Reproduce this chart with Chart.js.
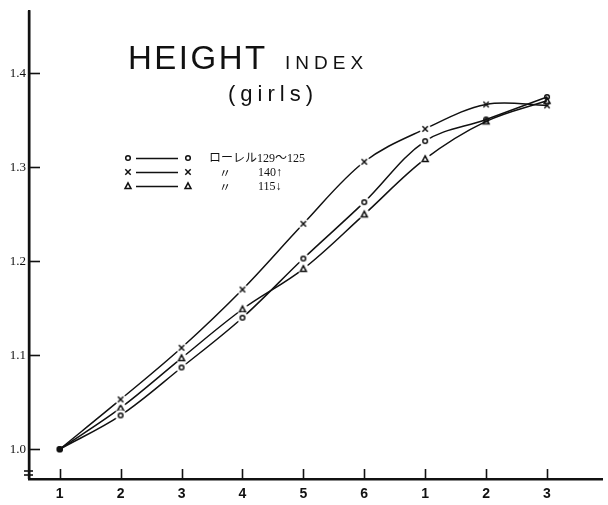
<!DOCTYPE html>
<html>
<head>
<meta charset="utf-8">
<script src="https://cdn.jsdelivr.net/npm/chart.js@4.4.1/dist/chart.umd.min.js"></script>
<style>
  html, body { margin: 0; padding: 0; background: #fff; }
  #wrap { position: relative; width: 608px; height: 505px; }
</style>
</head>
<body>
<div id="wrap"><canvas id="chart" width="608" height="505"></canvas></div>
<script>
// categories (age steps) and their printed labels
const xVals = [1, 2, 3, 4, 5, 6, 7, 8, 9];
const xLabels = ['1', '2', '3', '4', '5', '6', '1', '2', '3'];
const yTicks = [1.0, 1.1, 1.2, 1.3, 1.4];

// series
const seriesNames = ['ローレル129〜125', '140↑', '115↓'];
const rohrerMid = [1.0, 1.036, 1.087, 1.140, 1.203, 1.263, 1.328, 1.351, 1.375];
const rohrerHigh = [1.0, 1.053, 1.108, 1.170, 1.240, 1.306, 1.341, 1.367, 1.366];
const rohrerLow = [1.0, 1.044, 1.097, 1.149, 1.192, 1.250, 1.309, 1.349, 1.371];

const INK = '#111';

function drawGlyph(ctx, kind, cx, cy) {
    ctx.strokeStyle = INK;
    ctx.lineWidth = 1.5;
    ctx.beginPath();
    if (kind === 'o') {
        ctx.arc(cx, cy, 2.3, 0, Math.PI * 2);
    } else if (kind === 'x') {
        ctx.moveTo(cx - 2.7, cy - 2.7); ctx.lineTo(cx + 2.7, cy + 2.7);
        ctx.moveTo(cx + 2.7, cy - 2.7); ctx.lineTo(cx - 2.7, cy + 2.7);
    } else {
        ctx.moveTo(cx, cy - 3.2); ctx.lineTo(cx + 3, cy + 2.6); ctx.lineTo(cx - 3, cy + 2.6); ctx.closePath();
    }
    ctx.stroke();
}

// marker image: optional white halo so the curve stops short of the symbol
function makeMarker(kind, halo) {
    const c = document.createElement('canvas');
    c.width = 14; c.height = 14;
    const g = c.getContext('2d');
    if (halo) {
        g.fillStyle = '#fff';
        g.beginPath(); g.arc(7, 7, 5.6, 0, Math.PI * 2); g.fill();
    }
    drawGlyph(g, kind, 7, 7);
    return c;
}

function makeDot() {
    const c = document.createElement('canvas');
    c.width = 8; c.height = 8;
    const g = c.getContext('2d');
    g.fillStyle = INK;
    g.beginPath(); g.arc(4, 4, 3, 0, Math.PI * 2); g.fill();
    return c;
}

function pointStyles(kind) {
    const dot = makeDot();
    return xVals.map((v, i) => {
        if (i === 0) return dot;
        return makeMarker(kind, i < 7);
    });
}

function buildDataset(values, kind) {
    return {
        data: xVals.map((x, i) => ({ x: x, y: values[i] })),
        borderColor: INK,
        borderWidth: 1.5,
        tension: 0.35,
        fill: false,
        pointStyle: pointStyles(kind),
        pointRadius: 4
    };
}

function line(ctx, x1, y1, x2, y2) {
    ctx.beginPath(); ctx.moveTo(x1, y1); ctx.lineTo(x2, y2); ctx.stroke();
}

const decor = {
    id: 'decor',
    afterDraw(chart) {
        const ctx = chart.ctx;
        const xs = chart.scales.x, ys = chart.scales.y;
        const area = chart.chartArea;
        ctx.save();
        ctx.strokeStyle = INK;
        ctx.lineWidth = 1.6;

        // heavier y axis line
        ctx.lineWidth = 2.4;
        line(ctx, area.left, area.top, area.left, area.bottom);
        ctx.lineWidth = 1.6;

        // ticks point into the plot
        yTicks.forEach(v => {
            const y = Math.round(ys.getPixelForValue(v)) + 0.5;
            line(ctx, area.left, y, area.left + 11, y);
        });
        xVals.forEach(v => {
            const x = Math.round(xs.getPixelForValue(v)) + 0.5;
            line(ctx, x, area.bottom - 10, x, area.bottom);
        });

        // axis break mark
        line(ctx, area.left - 5, 471, area.left + 4, 471);
        line(ctx, area.left - 5, 475, area.left + 4, 475);

        // title
        ctx.fillStyle = INK;
        ctx.textBaseline = 'alphabetic';
        ctx.textAlign = 'left';
        ctx.letterSpacing = '2.5px';
        ctx.font = '33px "Liberation Sans", Arial, sans-serif';
        ctx.fillText('HEIGHT', 128, 69);
        ctx.letterSpacing = '5px';
        ctx.font = '19px "Liberation Sans", Arial, sans-serif';
        ctx.fillText('INDEX', 285, 69);
        ctx.letterSpacing = '5px';
        ctx.font = '22px "Liberation Sans", Arial, sans-serif';
        ctx.fillText('(girls)', 228, 101);
        ctx.letterSpacing = '0px';

        // legend
        const kinds = ['o', 'x', 't'];
        const rows = [158, 172, 186];
        rows.forEach((y, i) => {
            drawGlyph(ctx, kinds[i], 128, y);
            ctx.strokeStyle = INK;
            ctx.lineWidth = 1.3;
            line(ctx, 136, y + 0.5, 178, y + 0.5);
            drawGlyph(ctx, kinds[i], 188, y);
        });
        ctx.fillStyle = INK;
        ctx.textBaseline = 'middle';
        ctx.font = '12px "Liberation Serif", "Noto Sans CJK JP", serif';
        ctx.fillText(seriesNames[0], 209, rows[0] + 1);
        ctx.textAlign = 'center';
        ctx.font = '12px "Noto Sans CJK JP", serif';
        ctx.fillText('〃', 225, rows[1] + 1);
        ctx.fillText('〃', 225, rows[2] + 1);
        ctx.textAlign = 'left';
        ctx.font = '12px "Liberation Serif", "Noto Sans CJK JP", serif';
        ctx.fillText(seriesNames[1], 258, rows[1] + 1);
        ctx.fillText(seriesNames[2], 258, rows[2] + 1);
        ctx.restore();
    }
};

new Chart(document.getElementById('chart').getContext('2d'), {
    type: 'line',
    data: {
        datasets: [
            buildDataset(rohrerMid, 'o'),
            buildDataset(rohrerHigh, 'x'),
            buildDataset(rohrerLow, 't')
        ]
    },
    options: {
        responsive: false,
        animation: false,
        layout: { padding: { top: 8, right: 0, left: 0, bottom: 0 } },
        plugins: {
            legend: { display: false },
            tooltip: { enabled: false }
        },
        scales: {
            x: {
                type: 'linear',
                min: 0.496,
                max: 9.911,
                afterFit: scale => { scale.height = 26; },
                afterBuildTicks: scale => { scale.ticks = xVals.map(v => ({ value: v })); },
                grid: { display: false, drawTicks: false },
                border: { display: true, color: INK, width: 2.4 },
                ticks: {
                    padding: 7,
                    color: INK,
                    font: { family: '"Liberation Sans", Arial, sans-serif', size: 14, weight: 'bold' },
                    callback: v => xLabels[xVals.indexOf(v)]
                }
            },
            y: {
                min: 0.9683,
                max: 1.4667,
                afterFit: scale => { scale.width = 29; },
                afterBuildTicks: scale => { scale.ticks = yTicks.map(v => ({ value: v })); },
                grid: { display: false, drawTicks: false },
                border: { display: true, color: INK, width: 2.4 },
                ticks: {
                    padding: 3,
                    color: INK,
                    font: { family: '"Liberation Serif", serif', size: 13 },
                    callback: v => v.toFixed(1)
                }
            }
        }
    },
    plugins: [decor]
});
</script>
</body>
</html>
